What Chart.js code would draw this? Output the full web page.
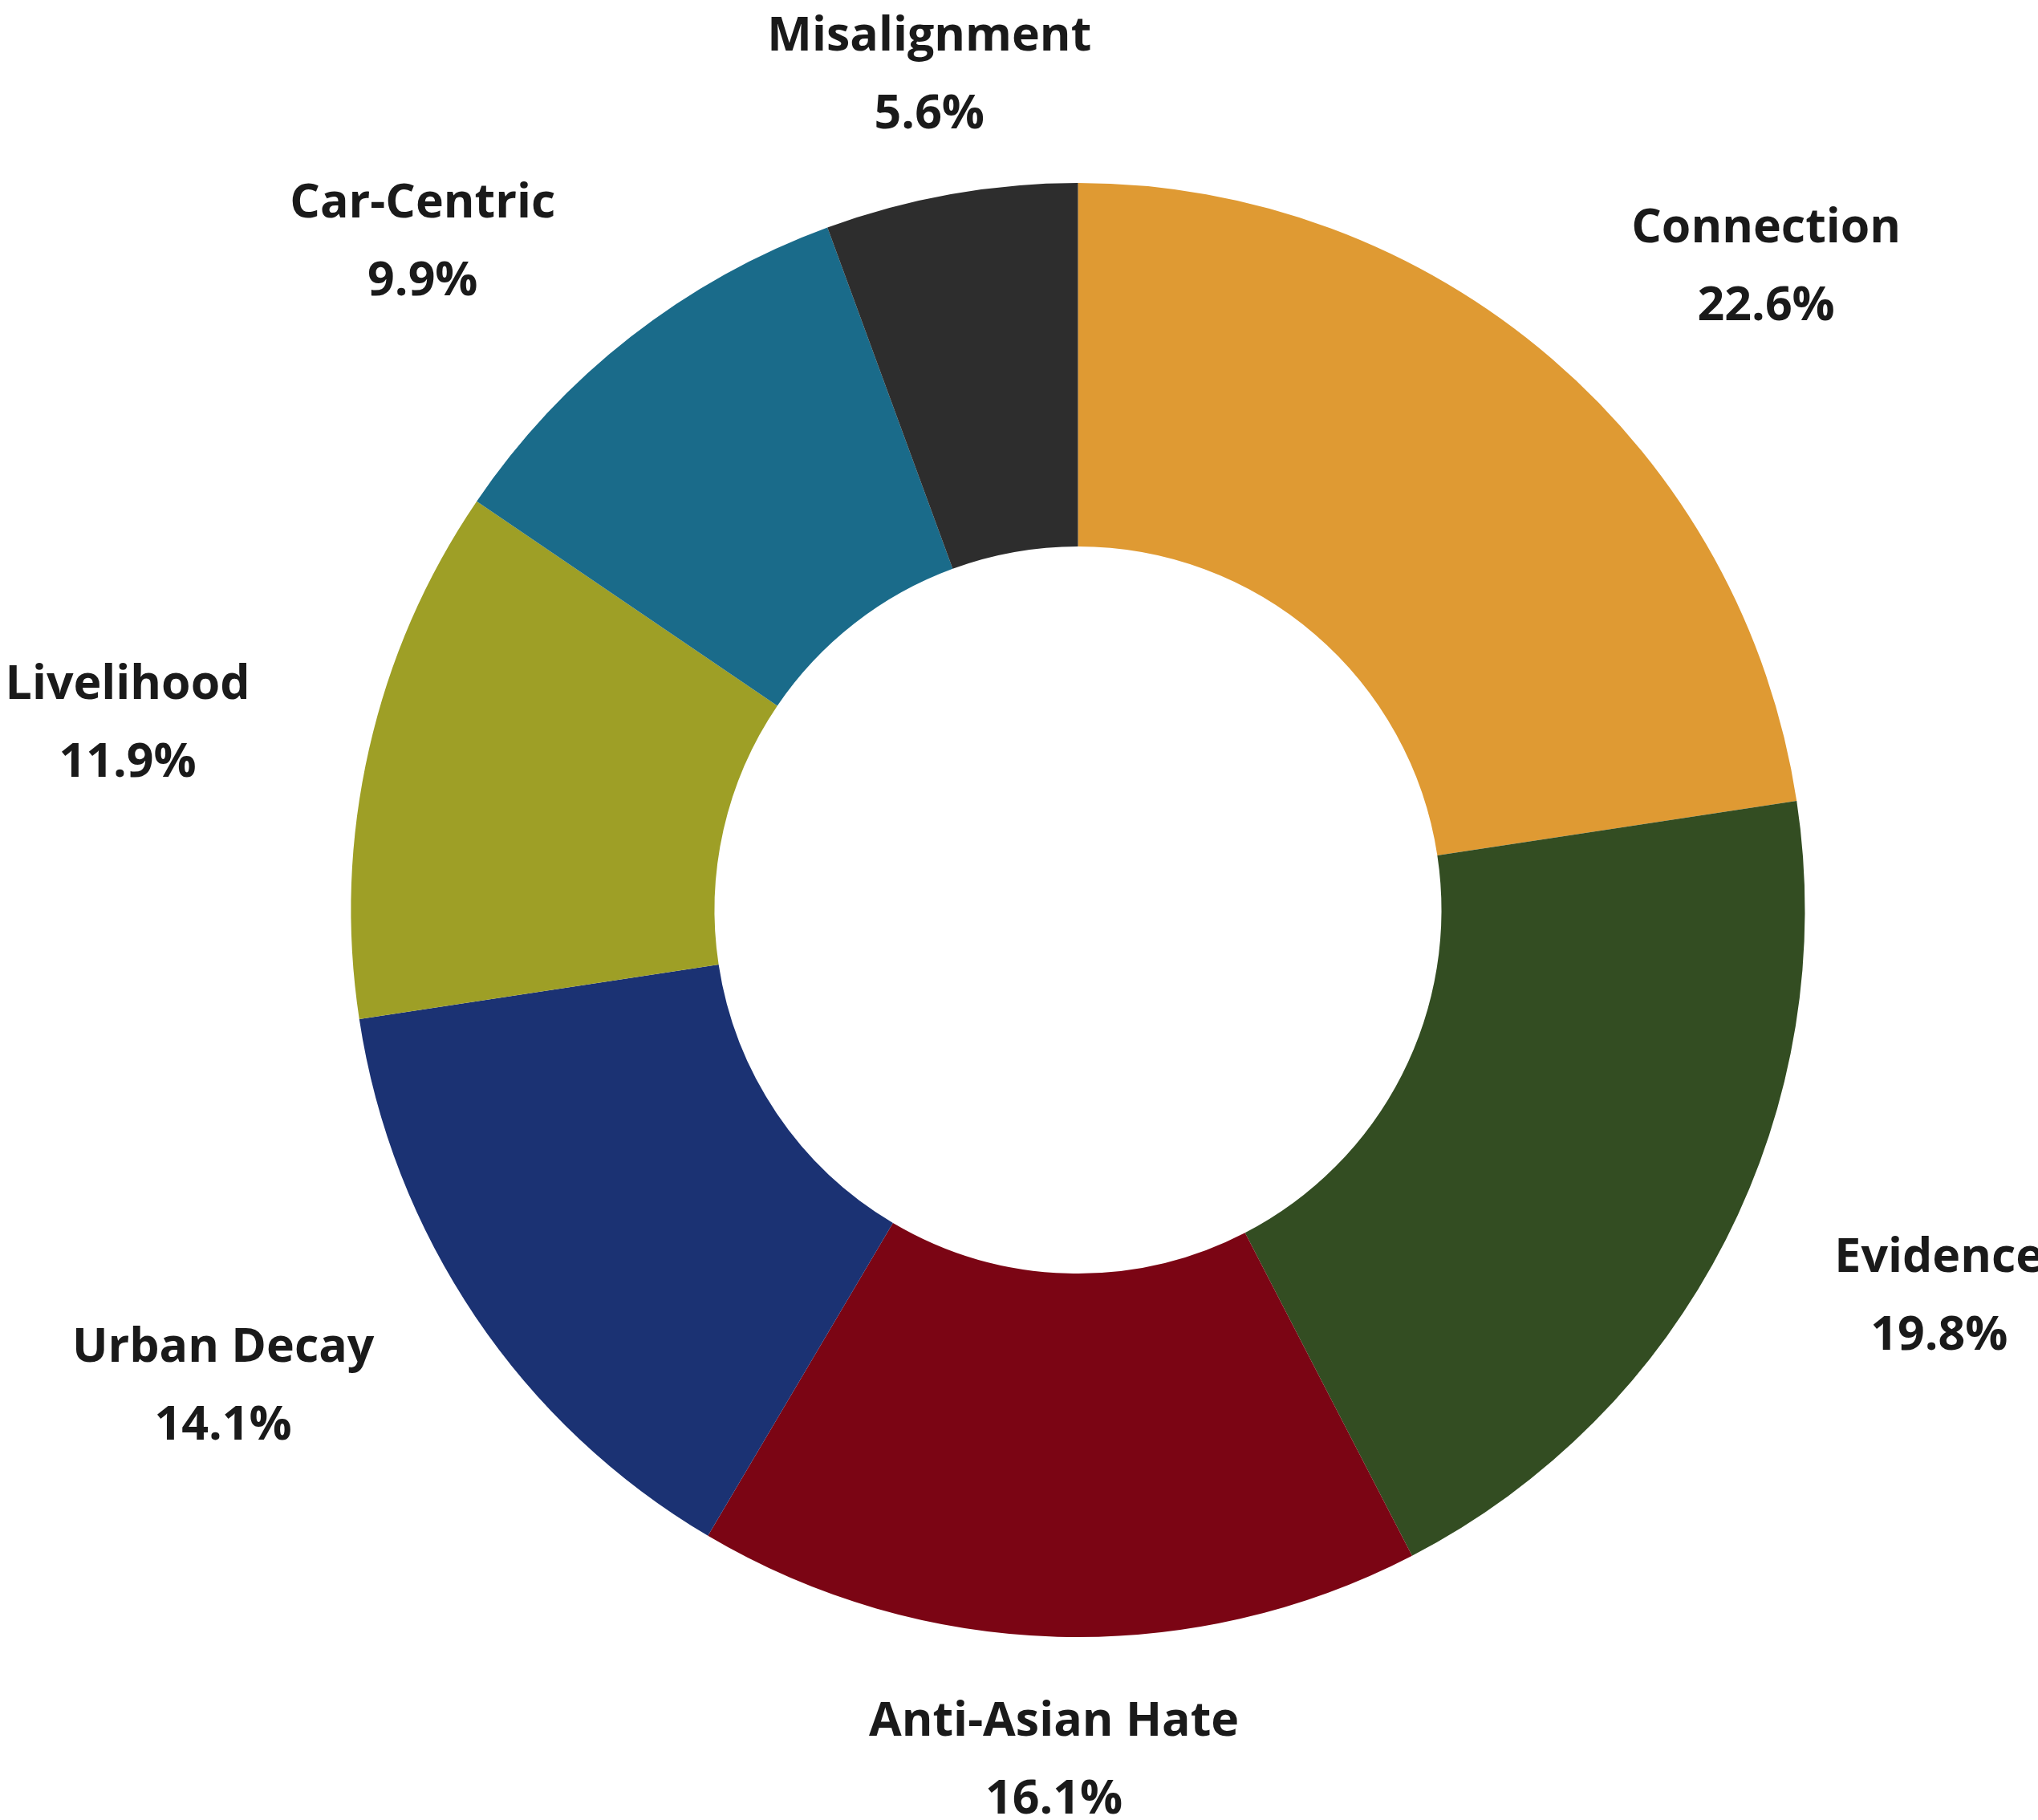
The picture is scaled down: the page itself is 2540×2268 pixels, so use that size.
<!DOCTYPE html>
<html>
<head>
<meta charset="utf-8">
<script src="https://cdn.jsdelivr.net/npm/chart.js@4.4.1/dist/chart.umd.min.js"></script>
<style>
    html, body { margin: 0; padding: 0; background: #ffffff; }
    #wrap { width: 2540px; height: 2268px; }
</style>
</head>
<body>
<div id="wrap"><canvas id="donut" width="2540" height="2268"></canvas></div>
<script>
    "use strict";

    // Data (clockwise from 12 o'clock)
    const categories = ["Connection", "Evidence", "Anti-Asian Hate", "Urban Decay", "Livelihood", "Car-Centric", "Misalignment"];
    const shares = [22.6, 19.8, 16.1, 14.1, 11.9, 9.9, 5.6];
    const sliceColors = ["#df9a33", "#334d22", "#7b0514", "#1b3273", "#9e9f26", "#1a6b8a", "#2d2d2d"];

    // Outside labels: name + percent, matplotlib-like alignment
    const outsideLabels = {
        id: "outsideLabels",
        afterDraw(chart) {
            const ctx = chart.ctx;
            const meta = chart.getDatasetMeta(0);
            const total = shares.reduce((a, b) => a + b, 0);
            ctx.save();
            ctx.fillStyle = "#1a1a1a";
            ctx.font = "bold 59px 'Open Sans'";
            ctx.textBaseline = "alphabetic";
            ctx.textAlign = "center";
            meta.data.forEach((arc, i) => {
                const p = arc.getProps(["x", "y", "startAngle", "endAngle", "outerRadius"], true);
                const mid = (p.startAngle + p.endAngle) / 2;
                const r = p.outerRadius * 1.168;
                const cx = p.x + r * Math.cos(mid);
                const cy = p.y + r * Math.sin(mid);
                const lines = [categories[i], (shares[i] / total * 100).toFixed(1) + "%"];
                const w = Math.max(...lines.map(t => ctx.measureText(t).width));
                const c = Math.cos(mid);
                let xc = cx;
                if (c > 0.3) xc = cx + w / 2;
                else if (c < -0.3) xc = cx - w / 2;
                ctx.fillText(lines[0], xc, cy - 29);
                ctx.fillText(lines[1], xc, cy + 68);
            });
            ctx.restore();
        }
    };

    new Chart(document.getElementById("donut").getContext("2d"), {
        type: "doughnut",
        data: {
            labels: categories,
            datasets: [{
                data: shares,
                backgroundColor: sliceColors,
                borderWidth: 0
            }]
        },
        options: {
            responsive: false,
            animation: false,
            cutout: "50%",
            layout: { padding: { left: 437.5, right: 290.5, top: 228, bottom: 228 } },
            plugins: {
                legend: { display: false },
                tooltip: { enabled: false }
            }
        },
        plugins: [outsideLabels]
    });
</script>
</body>
</html>
